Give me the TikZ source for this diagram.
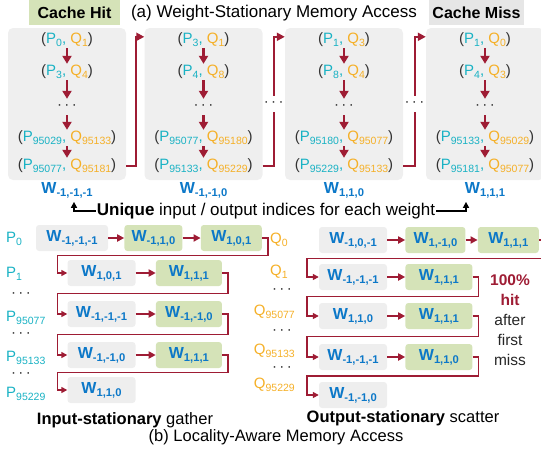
\documentclass[tikz,border=0pt]{standalone}
\usepackage{fontspec}
\usepackage{graphicx}
\setmainfont{Liberation Sans}
\usetikzlibrary{calc}
\usetikzlibrary{positioning}
\usetikzlibrary{arrows.meta}

\definecolor{pcol}{RGB}{25,178,196}
\definecolor{qcol}{RGB}{245,176,40}
\definecolor{wblue}{RGB}{12,120,200}
\definecolor{flowred}{RGB}{158,28,52}
\definecolor{hitgreen}{RGB}{213,227,184}
\definecolor{panelgray}{RGB}{239,239,239}
\definecolor{boxgray}{RGB}{238,238,238}
\definecolor{missgray}{RGB}{230,230,230}

\newcommand{\lo}[1]{\raisebox{-.2em}{\scalebox{.7}{#1}}}
\newcommand{\pq}[2]{(\textcolor{pcol}{P\lo{#1},} \textcolor{qcol}{Q\lo{#2}})}
\newcommand{\wt}[1]{\textcolor{wblue}{\fontsize{16}{19}\selectfont\bfseries W\lo{#1}}}
\newcommand{\pl}[1]{\textcolor{pcol}{P\lo{#1}}}
\newcommand{\ql}[1]{\textcolor{qcol}{Q\lo{#1}}}
\newcommand{\vdts}{·\,·\,·}

\begin{document}
\begin{tikzpicture}[x=1pt,y=-1pt,
  panel/.style={fill=panelgray,rounded corners=5pt,minimum width=118pt,minimum height=152pt,inner sep=0pt},
  pair/.style={font=\fontsize{15}{18}\selectfont,text=black!80,inner sep=1pt},
  dotsnode/.style={font=\fontsize{15}{18}\selectfont,text=black!80,inner sep=0pt,minimum height=16pt},
  listdots/.style={font=\fontsize{15}{18}\selectfont,text=black!80,inner sep=0pt},
  flow/.style={draw=flowred,line width=2.2pt,-{Triangle[length=8pt,width=9pt]}},
  link/.style={draw=flowred,line width=2pt,-{Triangle[length=8pt,width=8pt]}},
  hop/.style={draw=flowred,line width=1.8pt,-{Triangle[length=7pt,width=7pt]}},
  backlink/.style={draw=flowred,line width=1.5pt,-{Triangle[length=6pt,width=6pt]}},
  pointer/.style={draw=black,line width=1.5pt,-{Triangle[length=6pt,width=6pt]}},
  wbox/.style={fill=boxgray,rounded corners=3pt,minimum width=68pt,minimum height=26pt,inner sep=2pt},
  hitbox/.style={wbox,fill=hitgreen},
  plab/.style={font=\fontsize{15}{18}\selectfont,inner sep=1pt},
  big/.style={font=\fontsize{17}{20}\selectfont,inner sep=1pt}]

\useasboundingbox (0,0) rectangle (541,450);

% (a) weight-stationary
\node[fill=hitgreen,minimum width=91pt,minimum height=25pt,font=\fontsize{16}{19}\selectfont\bfseries] (hit) at (74.5,12.5) {Cache Hit};
\node[big] (titlea) at (274,13) {(a) Weight-Stationary Memory Access};
\node[fill=missgray,minimum width=91pt,minimum height=25pt,font=\fontsize{16}{19}\selectfont\bfseries] (miss) at (476.5,12.5) {Cache Miss};

\foreach \n/\cx/\w/\pa/\qa/\pb/\qb/\pc/\qc/\pd/\qd in {
  1/67/{-1,-1,-1}/0/1/3/4/95029/95133/95077/95181,
  2/203.5/{-1,-1,0}/3/1/4/8/95077/95180/95133/95229,
  3/344/{1,1,0}/1/3/8/4/95180/95077/95229/95133,
  4/485/{1,1,1}/1/0/4/3/95133/95029/95181/95077}{
  \node[panel] (pn\n) at (\cx,104) {};
  \node[pair] (e\n-1) at (\cx,40) {\pq{\pa}{\qa}};
  \node[pair] (e\n-2) at (\cx,72) {\pq{\pb}{\qb}};
  \node[dotsnode] (e\n-3) at (\cx,107) {\vdts};
  \node[pair] (e\n-4) at (\cx,138) {\pq{\pc}{\qc}};
  \node[pair] (e\n-5) at (\cx,166) {\pq{\pd}{\qd}};
  \foreach \k [evaluate=\k as \j using int(\k+1)] in {1,...,4}
    \draw[flow] (e\n-\k) -- (e\n-\j);
  \node[inner sep=1pt,below=1pt of pn\n] (w\n) {\wt{\w}};
}

\draw[link] (pn1.east |- e1-5) -- ++(9.5,0) |- ([yshift=-9pt]pn2.north west);
\node[dotsnode] (g23) at ($(pn2.east)!.5!(pn3.west)$) {\vdts};
\node[dotsnode] (g34) at ($(pn3.east)!.5!(pn4.west)$) {\vdts};
\draw[flowred,line width=2pt] (pn2.east |- e2-5) -| (g23.south);
\draw[link] (g23.north) |- ([yshift=-9pt]pn3.north west);
\draw[flowred,line width=2pt] (pn3.east |- e3-5) -| (g34.south);
\draw[link] (g34.north) |- ([yshift=-9pt]pn4.north west);

\node[big] (uniq) at (266,211) {\textbf{Unique} input / output indices for each weight};
\draw[pointer] (uniq.west) -| ([xshift=7pt]w1.south |- uniq.north);
\draw[pointer] (uniq.east) -| ([xshift=-19pt]w4.south |- uniq.north);

% (b) input-stationary gather
\node[wbox,minimum width=72pt] (l1-a) at (72,238) {\wt{-1,-1,-1}};
\node[hitbox,minimum width=58pt,right=16pt of l1-a] (l1-b) {\wt{-1,1,0}};
\node[hitbox,minimum width=61pt,right=18pt of l1-b] (l1-c) {\wt{1,0,1}};
\draw[hop] (l1-a) -- (l1-b);
\draw[hop] (l1-b) -- (l1-c);
\foreach \r/\y/\a/\b in {2/273/{1,0,1}/{1,1,1},3/314/{-1,-1,-1}/{-1,-1,0},4/355/{-1,-1,0}/{1,1,1}}{
  \node[wbox] (l\r-a) at (101.5,\y) {\wt{\a}};
  \node[hitbox,minimum width=66pt,right=20pt of l\r-a] (l\r-b) {\wt{\b}};
  \draw[hop] (l\r-a) -- (l\r-b);
}
\node[wbox] (l5-a) at (101.5,390) {\wt{1,1,0}};
\draw[backlink] (l1-c.east) -- ++(6,0) |- ($(l1-c.south)!.5!(l2-a.north)$) -| ([xshift=-10pt]l2-a.west) -- (l2-a.west);
\foreach \r [evaluate=\r as \s using int(\r+1)] in {2,3,4}
  \draw[backlink] (l\r-b.east) -- ++(6,0) |- ($(l\r-b.south)!.5!(l\s-a.north)$) -| ([xshift=-10pt]l\s-a.west) -- (l\s-a.west);

\foreach \t/\y in {0/239,1/274,95077/318,95133/358,95229/394}
  \node[plab,anchor=west] (p\t) at (5,\y) {\pl{\t}};
\foreach \y [count=\k] in {295,335,375}
  \node[listdots] (pdots\k) at (21,\y) {\vdts};

% (b) output-stationary scatter
\node[wbox] (r1-a) at (353,240) {\wt{-1,0,-1}};
\node[hitbox,minimum width=60pt,right=18pt of r1-a] (r1-b) {\wt{1,-1,0}};
\node[hitbox,minimum width=61pt,right=12pt of r1-b] (r1-c) {\wt{1,1,1}};
\draw[hop] (r1-a) -- (r1-b);
\draw[hop] (r1-b) -- (r1-c);
\foreach \r/\y/\a/\b in {2/277/{-1,-1,-1}/{1,1,1},3/316/{1,1,0}/{1,1,1},4/357/{-1,-1,-1}/{1,1,0}}{
  \node[wbox] (r\r-a) at (353,\y) {\wt{\a}};
  \node[hitbox,minimum width=67pt,right=18pt of r\r-a] (r\r-b) {\wt{\b}};
  \draw[hop] (r\r-a) -- (r\r-b);
}
\node[wbox] (r5-a) at (353,395) {\wt{-1,-1,0}};
\draw[backlink] (r1-c.east) -- ++(8,0) |- ($(r1-c.south)!.5!(r2-a.north)$) -| ([xshift=-12pt]r2-a.west) -- (r2-a.west);
\foreach \r [evaluate=\r as \s using int(\r+1)] in {2,3,4}
  \draw[backlink] (r\r-b.east) -- ++(6,0) |- ($(r\r-b.south)!.5!(r\s-a.north)$) -| ([xshift=-12pt]r\s-a.west) -- (r\s-a.west);

\node[plab,anchor=west] (q0) at (269,240) {\ql{0}};
\node[plab,anchor=west] (q1) at (269,272) {\ql{1}};
\foreach \t/\y in {95077/312,95133/351,95229/385}
  \node[plab,anchor=east] (q\t) at (296,\y) {\ql{\t}};
\foreach \y [count=\k] in {291,332,369}
  \node[listdots] (qdots\k) at (282,\y) {\vdts};

\node[align=center,font=\fontsize{15.5}{20}\selectfont,text=black!85] (note) at (510,320)
  {\textcolor{flowred}{\bfseries 100\%}\\\textcolor{flowred}{\bfseries hit}\\after\\first\\miss};

\node[font=\fontsize{16.5}{19}\selectfont,inner sep=1pt] (gather) at (125,420) {\textbf{Input-stationary} gather};
\node[font=\fontsize{16.5}{19}\selectfont,inner sep=1pt] (scatter) at (403,418) {\textbf{Output-stationary} scatter};
\node[font=\fontsize{16.5}{19}\selectfont,inner sep=1pt] (titleb) at (276,437) {(b) Locality-Aware Memory Access};
\end{tikzpicture}
\end{document}
